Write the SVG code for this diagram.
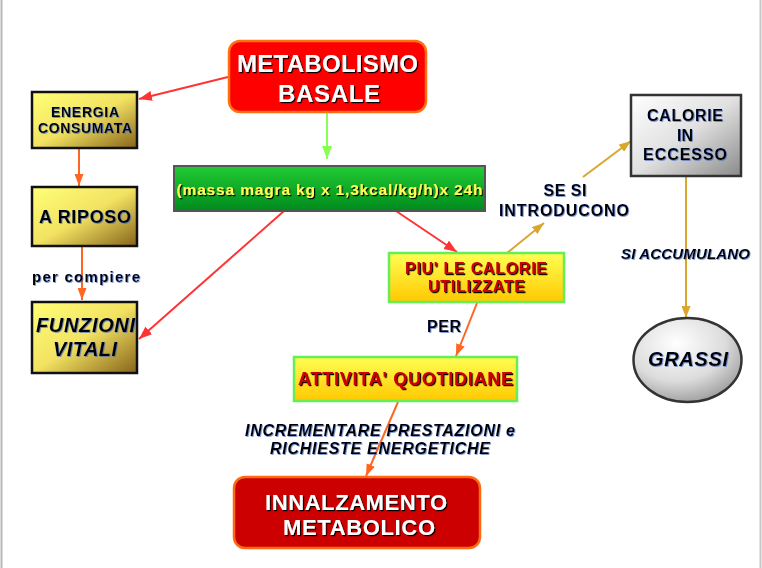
<svg xmlns="http://www.w3.org/2000/svg" width="762" height="568" viewBox="0 0 762 568">
<defs>
<linearGradient id="gYB" x1="0" y1="0" x2="1" y2="1">
<stop offset="0" stop-color="#ffff77"/><stop offset="0.5" stop-color="#f2e262"/><stop offset="1" stop-color="#86631a"/>
</linearGradient>
<linearGradient id="gGreen" x1="0" y1="0" x2="0" y2="1">
<stop offset="0" stop-color="#22cc33"/><stop offset="1" stop-color="#008a1e"/>
</linearGradient>
<linearGradient id="gYel" x1="0" y1="0" x2="0" y2="1">
<stop offset="0" stop-color="#ffff55"/><stop offset="1" stop-color="#ffc800"/>
</linearGradient>
<linearGradient id="gGray" x1="0" y1="0" x2="1" y2="1">
<stop offset="0" stop-color="#ffffff"/><stop offset="0.5" stop-color="#e0e0e0"/><stop offset="1" stop-color="#8a8a8a"/>
</linearGradient>
<radialGradient id="gEll" cx="0.4" cy="0.3" r="0.75">
<stop offset="0" stop-color="#ffffff"/><stop offset="0.6" stop-color="#dcdcdc"/><stop offset="1" stop-color="#9a9a9a"/>
</radialGradient>
<filter id="shK" x="-5%" y="-20%" width="110%" height="140%">
<feDropShadow dx="1.2" dy="1.2" stdDeviation="0" flood-color="#000"/>
</filter>
<filter id="shB" x="-5%" y="-20%" width="110%" height="140%">
<feDropShadow dx="0.8" dy="0.8" stdDeviation="0.2" flood-color="#4466bb" flood-opacity="0.8"/>
</filter>
<marker id="mRed" viewBox="0 0 13 10" refX="13" refY="5" markerWidth="13" markerHeight="10" markerUnits="userSpaceOnUse" orient="auto"><path d="M0,0 L13,5 L0,10 z" fill="#ff3333"/></marker>
<marker id="mGreen" viewBox="0 0 13 10" refX="13" refY="5" markerWidth="13" markerHeight="10" markerUnits="userSpaceOnUse" orient="auto"><path d="M0,0 L13,5 L0,10 z" fill="#88ff55"/></marker>
<marker id="mOr" viewBox="0 0 12 9" refX="12" refY="4.5" markerWidth="12" markerHeight="9" markerUnits="userSpaceOnUse" orient="auto"><path d="M0,0 L12,4.5 L0,9 z" fill="#ff6622"/></marker>
<marker id="mGold" viewBox="0 0 12 9" refX="12" refY="4.5" markerWidth="12" markerHeight="9" markerUnits="userSpaceOnUse" orient="auto"><path d="M0,0 L12,4.5 L0,9 z" fill="#d9a62e"/></marker>
</defs>
<style>
text{font-family:"Liberation Sans",Arial,sans-serif;font-weight:bold;text-anchor:middle}
.wt{fill:#fff;filter:url(#shK)}
.bk{fill:#000;filter:url(#shB)}
.rd{fill:#cc0000;filter:url(#shK)}
.lbl{fill:#000;filter:url(#shB)}
.it{font-style:italic}
.cR{stroke:#ff3333;stroke-width:2;fill:none;marker-end:url(#mRed)}
.cG{stroke:#88ff55;stroke-width:2;fill:none;marker-end:url(#mGreen)}
.cO{stroke:#ff6622;stroke-width:2;fill:none;marker-end:url(#mOr)}
.cY{stroke:#d9a62e;stroke-width:2;fill:none;marker-end:url(#mGold)}
.yb{fill:url(#gYB);stroke:#111;stroke-width:2.5}
.yl{fill:url(#gYel);stroke:#66ee55;stroke-width:2.5}
</style>
<rect x="0" y="0" width="762" height="568" fill="#fff"/>
<line x1="1.5" y1="0" x2="1.5" y2="568" stroke="#b8b8b8" stroke-width="2"/>
<line x1="760.5" y1="0" x2="760.5" y2="568" stroke="#c8c8c8" stroke-width="2"/>

<g id="connectors">
<line class="cR" x1="228" y1="77" x2="139" y2="99"/>
<line class="cG" x1="327" y1="113" x2="327" y2="159"/>
<line class="cO" x1="79" y1="148" x2="79" y2="186"/>
<line class="cO" x1="82" y1="246" x2="82" y2="300"/>
<line class="cR" x1="284" y1="211" x2="139" y2="339"/>
<line class="cR" x1="396" y1="211" x2="457" y2="252"/>
<line class="cY" x1="507" y1="253" x2="544" y2="223"/>
<line class="cY" x1="583" y1="177" x2="631" y2="141"/>
<line class="cY" x1="686" y1="176" x2="686" y2="318"/>
<line class="cO" x1="477" y1="303" x2="456" y2="356"/>
<line class="cO" x1="398" y1="402" x2="366" y2="476"/>
</g>

<g id="labels">
<text class="lbl" x="86" y="282" font-size="15" textLength="108" lengthAdjust="spacing">per compiere</text>
<text class="lbl" x="565" y="196" font-size="16" textLength="43" lengthAdjust="spacing">SE SI</text>
<text class="lbl" x="564" y="216" font-size="16" textLength="130" lengthAdjust="spacing">INTRODUCONO</text>
<text class="lbl it" x="685.5" y="259" font-size="15" textLength="129" lengthAdjust="spacing">SI ACCUMULANO</text>
<text class="lbl" x="444" y="332" font-size="16" textLength="34" lengthAdjust="spacing">PER</text>
<text class="lbl it" x="380" y="436" font-size="16" textLength="270" lengthAdjust="spacing">INCREMENTARE PRESTAZIONI e</text>
<text class="lbl it" x="380" y="454" font-size="16" textLength="220" lengthAdjust="spacing">RICHIESTE ENERGETICHE</text>
</g>

<g id="metabolismo-basale">
<rect x="229" y="41" width="197" height="71" rx="11" fill="#ff0000" stroke="#ff7010" stroke-width="2.5"/>
<text class="wt" x="327.5" y="72" font-size="24" textLength="181" lengthAdjust="spacing">METABOLISMO</text>
<text class="wt" x="329" y="102" font-size="24" textLength="102" lengthAdjust="spacing">BASALE</text>
</g>

<g id="formula">
<rect x="174" y="166" width="311" height="45" fill="url(#gGreen)" stroke="#555" stroke-width="2"/>
<text x="329.5" y="195" font-size="15.5" fill="#ffff55" filter="url(#shK)" textLength="306" lengthAdjust="spacing">(massa magra kg x 1,3kcal/kg/h)x 24h</text>
</g>

<g id="energia-consumata">
<rect class="yb" x="32" y="92" width="105" height="56"/>
<text class="bk" x="85" y="117" font-size="14" textLength="68" lengthAdjust="spacing">ENERGIA</text>
<text class="bk" x="85" y="133" font-size="14" textLength="94" lengthAdjust="spacing">CONSUMATA</text>
</g>

<g id="a-riposo">
<rect class="yb" x="32" y="187" width="105" height="59"/>
<text class="bk" x="85" y="223" font-size="18" textLength="92" lengthAdjust="spacing">A RIPOSO</text>
</g>

<g id="funzioni-vitali">
<rect class="yb" x="32" y="302" width="105" height="71"/>
<text class="bk it" x="85.5" y="332" font-size="20" textLength="99" lengthAdjust="spacing">FUNZIONI</text>
<text class="bk it" x="85" y="356" font-size="20" textLength="64" lengthAdjust="spacing">VITALI</text>
</g>

<g id="piu-calorie">
<rect class="yl" x="389" y="253" width="175" height="49"/>
<text class="rd" x="476" y="274" font-size="16" textLength="142" lengthAdjust="spacing">PIU' LE CALORIE</text>
<text class="rd" x="476.5" y="292" font-size="16" textLength="97" lengthAdjust="spacing">UTILIZZATE</text>
</g>

<g id="calorie-eccesso">
<rect x="631" y="95" width="110" height="81" fill="url(#gGray)" stroke="#333" stroke-width="2.5"/>
<text class="bk" x="685" y="121" font-size="16" textLength="76" lengthAdjust="spacing">CALORIE</text>
<text class="bk" x="685" y="141" font-size="16" textLength="16" lengthAdjust="spacing">IN</text>
<text class="bk" x="685" y="160" font-size="16" textLength="84" lengthAdjust="spacing">ECCESSO</text>
</g>

<g id="grassi">
<ellipse cx="687.5" cy="360" rx="54" ry="42" fill="url(#gEll)" stroke="#333" stroke-width="2.5"/>
<text class="bk it" x="688" y="366" font-size="20" textLength="80" lengthAdjust="spacing">GRASSI</text>
</g>

<g id="attivita-quotidiane">
<rect class="yl" x="294" y="357" width="223" height="44"/>
<text class="rd" x="405.5" y="385" font-size="18" textLength="215" lengthAdjust="spacing">ATTIVITA' QUOTIDIANE</text>
</g>

<g id="innalzamento-metabolico">
<rect x="234" y="477" width="246" height="71" rx="11" fill="#cc0000" stroke="#ff6a10" stroke-width="2.5"/>
<text class="wt" x="356" y="510" font-size="22" textLength="182" lengthAdjust="spacing">INNALZAMENTO</text>
<text class="wt" x="359" y="535" font-size="22" textLength="152" lengthAdjust="spacing">METABOLICO</text>
</g>
</svg>
